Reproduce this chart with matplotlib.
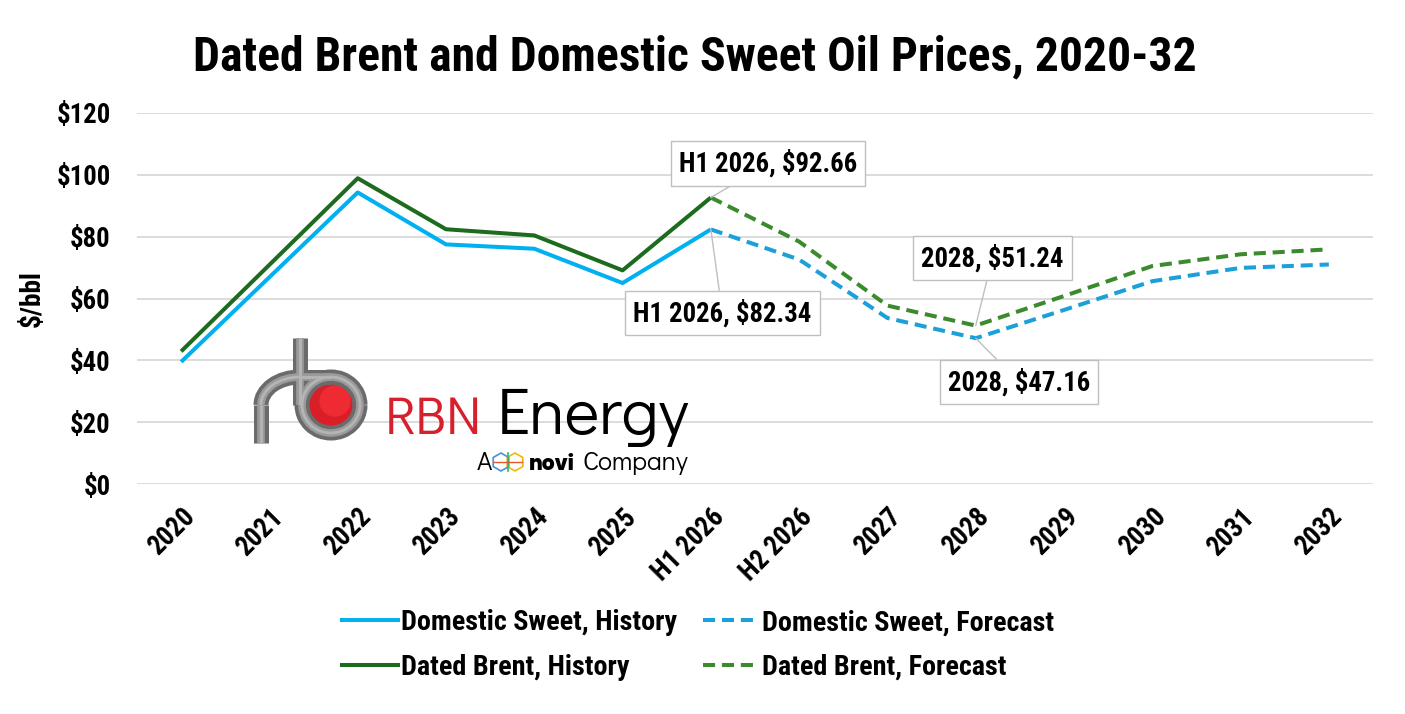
import matplotlib
matplotlib.use("Agg")
import matplotlib.pyplot as plt
from matplotlib import font_manager as fm
from matplotlib.patches import Arc, Circle, RegularPolygon
from matplotlib.lines import Line2D

categories = ['2020', '2021', '2022', '2023', '2024', '2025', 'H1 2026', 'H2 2026',
              '2027', '2028', '2029', '2030', '2031', '2032']
domestic_sweet = [39.5, 66.9, 94.3, 77.5, 76.1, 65.0, 82.34, 72.6, 53.7, 47.16, 56.3, 65.6, 69.9, 71.0]
dated_brent = [42.9, 70.9, 98.9, 82.4, 80.4, 69.1, 92.66, 78.4, 57.7, 51.24, 60.8, 70.5, 74.3, 75.9]
history_end = 6  # index of H1 2026
y_ticks = [0, 20, 40, 60, 80, 100, 120]
y_tick_labels = ['$0', '$20', '$40', '$60', '$80', '$100', '$120']
annotations = [  # (series, index, label, text x, text y)
    ('brent', 6, 'H1 2026, $92.66', 6.65, 103.6),
    ('ds', 6, 'H1 2026, $82.34', 6.13, 55.3),
    ('brent', 9, '2028, $51.24', 9.19, 73.1),
    ('ds', 9, '2028, $47.16', 9.49, 33.0),
]

# ---- font selection ----
_have = {}
for f in fm.fontManager.ttflist:
    w = f.weight if isinstance(f.weight, int) else (700 if str(f.weight) == 'bold' else 400)
    _have.setdefault(f.name, set()).add(w)


def pick(cands, need=700):
    for c in cands:
        if c in _have and any(abs(w - need) <= 100 for w in _have[c]):
            return c
    return 'DejaVu Sans'


MAIN = pick(['Aptos Narrow', 'Roboto Condensed', 'Archivo Narrow', 'PT Sans Narrow',
             'Barlow Semi Condensed', 'Fira Sans Condensed', 'IBM Plex Sans Condensed',
             'Open Sans Condensed', 'Liberation Sans Narrow'])
LOGO = pick(['Century Gothic', 'Didact Gothic', 'Questrial', 'Mulish', 'Lato'], need=400)
NOVI = pick(['Poppins', 'Montserrat', 'Lato', 'Roboto'], need=800)
FONT = [MAIN, 'DejaVu Sans']
plt.rcParams['font.family'] = FONT
plt.rcParams['font.weight'] = 'bold'

C_DS_H = '#00B0F0'
C_DS_F = '#1CA0DA'
C_BR_H = '#1D6B1E'
C_BR_F = '#3C8A2E'

fig = plt.figure(figsize=(14.05, 7.14), dpi=100)
renderer = fig.canvas.get_renderer()


def size_for(text, width_px, family, weight='bold', base=20):
    t = fig.text(0, 0, text, fontsize=base, family=family, fontweight=weight)
    w = t.get_window_extent(renderer).width
    t.remove()
    return base * width_px / w


fs_tick = size_for('$120', 54, FONT)
fs_ann = size_for('H1 2026, $82.34', 179, FONT)
fs_leg = size_for('Domestic Sweet, History', 275, FONT)
fs_ylab = size_for('$/bbl', 57, FONT)
fs_title = size_for('Dated Brent and Domestic Sweet Oil Prices, 2020-32', 1000, FONT)

ax = fig.add_axes([137/1405, 1-484/714, 1236/1405, 371/714])

x = list(range(len(categories)))
h = history_end
lw = 2.9
dash = (3, 1.7)
ax.plot(x[:h+1], domestic_sweet[:h+1], color=C_DS_H, lw=lw, solid_capstyle='butt', zorder=3)
ax.plot(x[h:], domestic_sweet[h:], color=C_DS_F, lw=lw, dashes=dash, zorder=3)
ax.plot(x[:h+1], dated_brent[:h+1], color=C_BR_H, lw=lw, solid_capstyle='butt', zorder=3)
ax.plot(x[h:], dated_brent[h:], color=C_BR_F, lw=lw, dashes=dash, zorder=3)

ax.set_xlim(-0.5, len(categories) - 0.5)
ax.set_ylim(0, 120)
ax.set_yticks(y_ticks)
ax.set_yticklabels(y_tick_labels)
ax.set_xticks(x)
ax.set_xticklabels(categories, rotation=45, ha='right', rotation_mode='anchor')
ax.tick_params(axis='both', length=0, labelsize=fs_tick)
ax.tick_params(axis='y', pad=19)
ax.tick_params(axis='x', pad=14)
for s in ax.spines.values():
    s.set_visible(False)
ax.grid(axis='y', color='#D9D9D9', lw=1.3)
ax.set_axisbelow(True)
ax.set_ylabel('$/bbl', fontsize=fs_ylab, fontweight='bold')
ax.yaxis.set_label_coords(-0.074, 0.5)

for series, idx, label, tx, ty in annotations:
    yv = dated_brent[idx] if series == 'brent' else domestic_sweet[idx]
    ax.annotate(label, xy=(idx, yv), xytext=(tx, ty), ha='center', va='center',
                fontsize=fs_ann, fontweight='bold', zorder=5,
                bbox=dict(boxstyle='square,pad=0.3', fc='white', ec='#BFBFBF', lw=1),
                arrowprops=dict(arrowstyle='-', color='#BFBFBF', lw=1, shrinkA=0, shrinkB=0))

fig.text(695/1405, 1-57/714, 'Dated Brent and Domestic Sweet Oil Prices, 2020-32',
         ha='center', va='center', fontsize=fs_title, fontweight='bold')

# legend
handles = [
    Line2D([], [], color=C_DS_H, lw=lw),
    Line2D([], [], color=C_BR_H, lw=lw),
    Line2D([], [], color=C_DS_F, lw=lw, dashes=dash),
    Line2D([], [], color=C_BR_F, lw=lw, dashes=dash),
]
labels = ['Domestic Sweet, History', 'Dated Brent, History',
          'Domestic Sweet, Forecast', 'Dated Brent, Forecast']
fig.legend(handles, labels, ncol=2, loc='center', bbox_to_anchor=(698/1405, 1-645/714),
           frameon=False, prop={'family': FONT, 'weight': 'bold', 'size': fs_leg},
           handlelength=2.0, handletextpad=0.12, columnspacing=0.9, labelspacing=0.62)

# logo
lax = fig.add_axes([240/1405, 1-480/714, 460/1405, 150/714])
lax.set_xlim(240, 700)
lax.set_ylim(480, 330)
lax.axis('off')
lax.add_patch(Circle((331, 405), 24, color='#D91E28', zorder=1))
lax.add_patch(Circle((335, 401), 15, color='#EE2A33', zorder=1))
pipe_kw = dict(solid_capstyle='butt', zorder=2)
for col, w in (('#6B6B6B', 10.8), ('#9A9A9A', 5.5), ('#B5B5B5', 2)):
    lax.plot([261, 261], [443, 405], color=col, lw=w, **pipe_kw)
    lax.add_patch(Arc((300, 405), 78, 56, theta1=180, theta2=270, color=col, lw=w, zorder=2))
    lax.plot([300, 331], [377, 377], color=col, lw=w, **pipe_kw)
    lax.add_patch(Arc((331, 405), 58, 56, theta1=0, theta2=360, color=col, lw=w, zorder=2))
    lax.plot([300, 300], [338, 405], color=col, lw=w, **pipe_kw)

fs_rbn = size_for('RBN', 98, LOGO, weight='normal')
fs_en = size_for('Energy', 193, LOGO, weight='normal')
lax.text(385, 434, 'RBN', color='#D7202D', fontsize=fs_rbn, family=LOGO, fontweight='normal',
         ha='left', va='baseline')
lax.text(497, 434, 'Energy', color='black', fontsize=fs_en, family=LOGO, fontweight='normal',
         ha='left', va='baseline')
fs_small = size_for('Company', 106, LOGO, weight='normal')
fs_novi = size_for('novi', 46, NOVI, weight='heavy')
lax.text(477, 470, 'A', color='black', fontsize=fs_small, family=LOGO, fontweight='normal',
         ha='left', va='baseline')
# small novi cube icon
lax.add_patch(RegularPolygon((501, 462), numVertices=6, radius=9, orientation=0,
                             fill=False, ec='#4A90D9', lw=1.2))
lax.add_patch(RegularPolygon((515, 462), numVertices=6, radius=9, orientation=0,
                             fill=False, ec='#F2B705', lw=1.2))
lax.plot([508, 508], [453, 471], color='#34B36B', lw=1.2)
lax.plot([494, 522], [462, 462], color='#E8552D', lw=1.0)
lax.text(529, 470, 'novi', color='black', fontsize=fs_novi, family=NOVI, fontweight='heavy',
         ha='left', va='baseline')
lax.text(583, 470, 'Company', color='black', fontsize=fs_small, family=LOGO, fontweight='normal',
         ha='left', va='baseline')

fig.savefig('out.png', dpi=100)
